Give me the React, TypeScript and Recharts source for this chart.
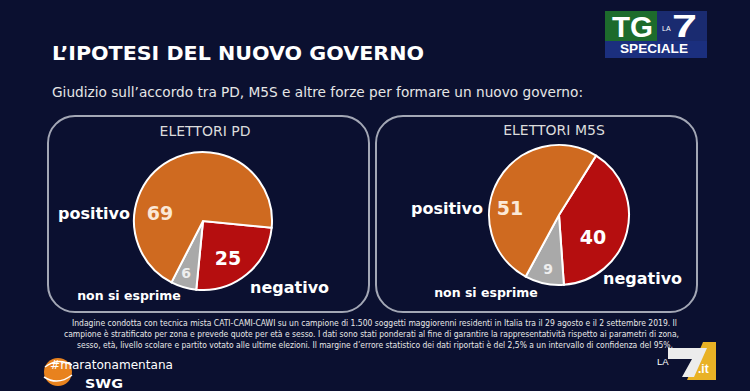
import React from 'react';
import { PieChart, Pie, Cell } from 'recharts';

const SLICE_NAMES = ['negativo', 'non si esprime', 'positivo'];
const PD_VALUES = [25, 6, 69];
const M5S_VALUES = [40, 9, 51];
const PANEL_TITLES = ['ELETTORI PD', 'ELETTORI M5S'];
const TITLE = 'L\u2019IPOTESI DEL NUOVO GOVERNO';
const SUBTITLE = 'Giudizio sull\u2019accordo tra PD, M5S e altre forze per formare un nuovo governo:';
const FOOTNOTE = [
  'Indagine condotta con tecnica mista CATI-CAMI-CAWI su un campione di 1.500 soggetti maggiorenni residenti in Italia tra il 29 agosto e il  2 settembre 2019. Il',
  'campione è stratificato per zona e prevede quote per età e sesso. I dati sono stati ponderati al fine di garantire la rappresentatività rispetto ai parametri di zona,',
  'sesso, età, livello scolare e partito votato alle ultime elezioni. Il margine d\u2019errore statistico dei dati riportati è del 2,5% a un intervallo di confidenza del 95%,',
];

const BG = '#0b1030';
const SLICE_COLORS = ['#b50e0f', '#a9a9a9', '#cf6a20'];
const VALUE_COLORS = ['#ffffff', '#eeeeee', '#fbe8d6'];

const pdData = SLICE_NAMES.map((name, i) => ({ name, value: PD_VALUES[i] }));
const m5sData = SLICE_NAMES.map((name, i) => ({ name, value: M5S_VALUES[i] }));

// label offsets from the pie centre: [valueDx, valueDy, nameDx, nameDy, anchor]
const PD_LABELS: [number, number, number, number, string][] = [
  [25, 37, 47, 66, 'start'],
  [-17, 52, -74, 74, 'middle'],
  [-43, -8, -73, -8, 'end'],
];
const M5S_LABELS: [number, number, number, number, string][] = [
  [34, 22, 44, 63, 'start'],
  [-11, 54, -73, 77, 'middle'],
  [-49, -7, -76, -7, 'end'],
];

const bold = 'DejaVu Sans, Verdana, sans-serif';
const arial = 'Liberation Sans, Arial, sans-serif';

function makeLabel(layout: [number, number, number, number, string][]) {
  return (props: any) => {
    const { cx, cy, index, name, value } = props;
    const [vx, vy, nx, ny, anchor] = layout[index];
    const small = index === 1;
    return (
      <g key={`lbl-${index}`}>
        <text
          x={cx + vx}
          y={cy + vy}
          textAnchor="middle"
          dominantBaseline="central"
          fill={VALUE_COLORS[index]}
          fontFamily={bold}
          fontWeight="bold"
          fontSize={small ? 14 : 19}
        >
          {value}
        </text>
        <text
          x={cx + nx}
          y={cy + ny}
          textAnchor={anchor as any}
          dominantBaseline="central"
          fill="#ffffff"
          fontFamily={bold}
          fontWeight="bold"
          fontSize={small ? 12.5 : 16}
        >
          {name}
        </text>
      </g>
    );
  };
}

function Backdrop() {
  return (
    <svg width={750} height={391} style={{ position: 'absolute', left: 0, top: 0 }}>
      <rect width={750} height={391} fill={BG} />
      <text x={52} y={60} fill="#ffffff" fontFamily={bold} fontWeight="bold" fontSize={20}
        textLength={372} lengthAdjust="spacingAndGlyphs">{TITLE}</text>
      <text x={52} y={97} fill="#e6e6e6" fontFamily="DejaVu Sans Condensed, DejaVu Sans, sans-serif" fontSize={14}
        textLength={531} lengthAdjust="spacingAndGlyphs">{SUBTITLE}</text>

      {/* TG LA7 speciale */}
      <rect x={605} y={11} width={102} height={47} fill="#1a2b70" />
      <rect x={605} y={41} width={102} height={17} fill="#1b2f7e" />
      <rect x={605} y={11} width={52} height={30} fill="#1d6b2c" />
      <text x={612} y={37} fill="#ffffff" fontFamily={arial}
        fontWeight="bold" fontSize={29} textLength={41} lengthAdjust="spacingAndGlyphs">TG</text>
      <text x={662} y={31} fill="#ffffff" fontFamily={arial} fontSize={7}>LA</text>
      <text x={672} y={37} fill="#ffffff" fontFamily={arial} fontWeight="bold"
        fontSize={31} textLength={25} lengthAdjust="spacingAndGlyphs">7</text>
      <text x={620} y={53} fill="#ffffff" fontFamily={arial}
        fontWeight="bold" fontSize={12} textLength={68} lengthAdjust="spacingAndGlyphs">SPECIALE</text>

      {/* panels */}
      <rect x={48} y={116} width={321} height={196} rx={27} fill="none" stroke="#a3a7b5" strokeWidth={2} />
      <rect x={376} y={116} width={321} height={196} rx={27} fill="none" stroke="#a3a7b5" strokeWidth={2} />
      <text x={205} y={136} textAnchor="middle" fill="#dcdcdc" fontFamily="DejaVu Sans, sans-serif" fontSize={14}>
        {PANEL_TITLES[0]}
      </text>
      <text x={554} y={135} textAnchor="middle" fill="#dcdcdc" fontFamily="DejaVu Sans, sans-serif" fontSize={14}>
        {PANEL_TITLES[1]}
      </text>

      {FOOTNOTE.map((line, i) => (
        <text key={i} x={[72, 64, 77][i]} y={326 + i * 10.8} fill="#e8e8e8"
          fontFamily="Liberation Sans Narrow, DejaVu Sans Condensed, sans-serif" fontSize={9}
          textLength={[605, 615, 596][i]} lengthAdjust="spacingAndGlyphs">{line}</text>
      ))}

      {/* SWG */}
      <circle cx={58} cy={372} r={14} fill="#e8821e" />
      <path d="M45 367 Q58 357 72 365" stroke="#ffffff" strokeWidth={1.5} fill="none" />
      <path d="M44 377 Q58 386 72 375" stroke="#ffffff" strokeWidth={1.5} fill="none" />
      <text x={50} y={369} fill="#ffffff" fontFamily="DejaVu Sans, sans-serif" fontSize={12.5}
        textLength={123} lengthAdjust="spacingAndGlyphs">#maratonamentana</text>
      <text x={85} y={388} fill="#ffffff" fontFamily={bold} fontWeight="bold" fontSize={13}
        textLength={38} lengthAdjust="spacingAndGlyphs">SWG</text>

      {/* LA7.it */}
      <polygon points="703,342 716,342 716,380 687,380" fill="#e9b225" />
      <polygon points="668,348 707,348 694,377 682,377 692,359 668,359" fill="#ececec" />
      <text x={657} y={365} fill="#ffffff" fontFamily={arial} fontSize={9.5}>LA</text>
      <text x={698} y={373} fill="#ffffff" fontFamily={arial} fontWeight="bold" fontSize={12}>.it</text>
    </svg>
  );
}

export default function App() {
  return (
    <div style={{ position: 'absolute', left: 0, top: 0, width: 750, height: 391 }}>
      <Backdrop />
      <div style={{ position: 'absolute', left: 0, top: 0 }}>
        <PieChart width={750} height={391} margin={{ top: 0, right: 0, bottom: 0, left: 0 }}>
          <Pie
            data={pdData}
            dataKey="value"
            nameKey="name"
            cx={203}
            cy={221}
            outerRadius={69}
            startAngle={-5.6}
            endAngle={-365.6}
            stroke="#ffffff"
            strokeWidth={2}
            labelLine={false}
            label={makeLabel(PD_LABELS)}
            isAnimationActive={false}
          >
            {pdData.map((_, i) => (
              <Cell key={i} fill={SLICE_COLORS[i]} />
            ))}
          </Pie>
          <Pie
            data={m5sData}
            dataKey="value"
            nameKey="name"
            cx={559}
            cy={215}
            outerRadius={70}
            startAngle={58}
            endAngle={-302}
            stroke="#ffffff"
            strokeWidth={2}
            labelLine={false}
            label={makeLabel(M5S_LABELS)}
            isAnimationActive={false}
          >
            {m5sData.map((_, i) => (
              <Cell key={i} fill={SLICE_COLORS[i]} />
            ))}
          </Pie>
        </PieChart>
      </div>
    </div>
  );
}
